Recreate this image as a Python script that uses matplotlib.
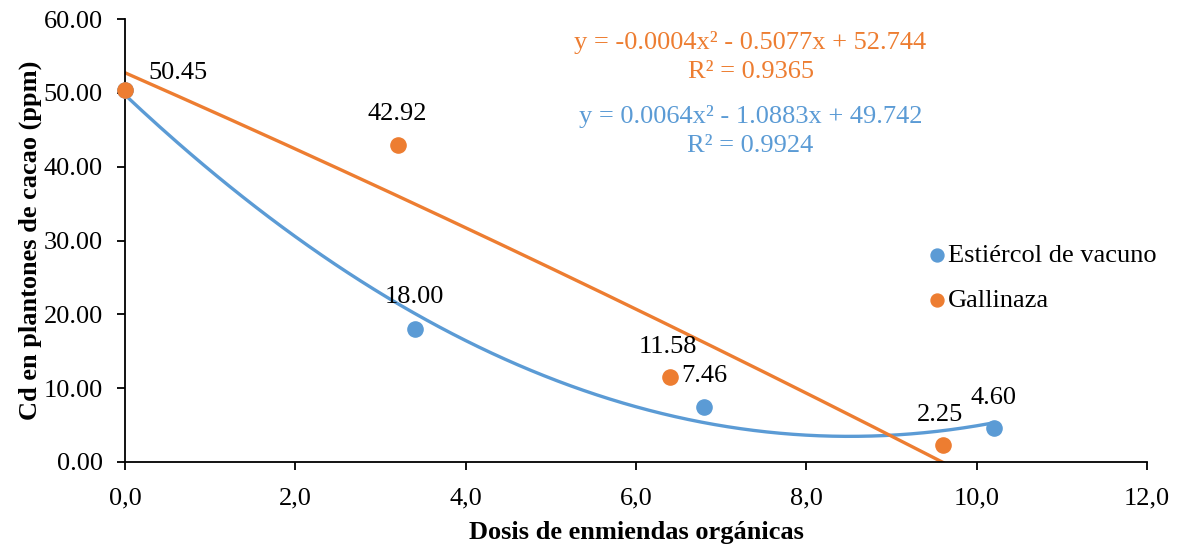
import numpy as np
import matplotlib
matplotlib.use('Agg')
import matplotlib.pyplot as plt

# data
x_vacuno = [0.0, 3.4, 6.8, 10.2]
y_vacuno = [50.45, 18.00, 7.46, 4.60]
x_gallinaza = [0.0, 3.2, 6.4, 9.6]
y_gallinaza = [50.45, 42.92, 11.58, 2.25]

eq_vacuno = 'y = 0.0064x² - 1.0883x + 49.742\nR² = 0.9924'
eq_gallinaza = 'y = -0.0004x² - 0.5077x + 52.744\nR² = 0.9365'

blue = '#5B9BD5'
orange = '#ED7D31'
fs = 19

plt.rcParams['font.family'] = ['Liberation Serif', 'DejaVu Serif']

fig = plt.figure(figsize=(11.84, 5.48), dpi=100)
ax = fig.add_axes([0.1056, 0.157, 0.8632, 0.808])

# polynomial trendlines (order 2), like Excel
xs = np.linspace(min(x_vacuno), max(x_vacuno), 200)
cv = np.polyfit(x_vacuno, y_vacuno, 2)
ax.plot(xs, np.polyval(cv, xs), color=blue, lw=2.4, zorder=2)
xs2 = np.linspace(min(x_gallinaza), max(x_gallinaza), 200)
cg = np.polyfit(x_gallinaza, y_gallinaza, 2)
ax.plot(xs2, np.polyval(cg, xs2), color=orange, lw=2.4, zorder=2)

ax.scatter(x_vacuno, y_vacuno, s=120, color=blue, zorder=3, clip_on=False,
           label='Estiércol de vacuno')
ax.scatter(x_gallinaza, y_gallinaza, s=120, color=orange, zorder=4, clip_on=False,
           label='Gallinaza')

# data labels (offsets in pixels)
off_v = [None, (0, 32), (0, 31), (0, 30)]
off_g = [(53, 17), (0, 31), (-2, 30), (-3, 30)]
for xv, yv, o in zip(x_vacuno, y_vacuno, off_v):
    if o is None:
        continue
    ax.annotate(f'{yv:.2f}', (xv, yv), xytext=o, textcoords='offset pixels',
                ha='center', va='center', fontsize=fs)
for xg, yg, o in zip(x_gallinaza, y_gallinaza, off_g):
    ax.annotate(f'{yg:.2f}', (xg, yg), xytext=o, textcoords='offset pixels',
                ha='center', va='center', fontsize=fs)

ax.text(0.612, 0.914, eq_gallinaza, transform=ax.transAxes, ha='center', va='center',
        color=orange, fontsize=fs, linespacing=1.4)
ax.text(0.612, 0.748, eq_vacuno, transform=ax.transAxes, ha='center', va='center',
        color=blue, fontsize=fs, linespacing=1.4)

ax.set_xlim(0, 12)
ax.set_ylim(0, 60)
ax.set_xticks(np.arange(0, 13, 2))
ax.set_xticklabels([f'{t:.1f}'.replace('.', ',') for t in np.arange(0, 13, 2)])
ax.set_yticks(np.arange(0, 61, 10))
ax.set_yticklabels([f'{t:.2f}' for t in np.arange(0, 61, 10)])
ax.tick_params(labelsize=fs, length=6, width=1.3, direction='out', colors='black')
ax.tick_params(axis='x', pad=12)
ax.tick_params(axis='y', pad=10)
for s in ['top', 'right']:
    ax.spines[s].set_visible(False)
for s in ['left', 'bottom']:
    ax.spines[s].set_linewidth(1.3)

ax.set_xlabel('Dosis de enmiendas orgánicas', fontsize=fs, fontweight='bold', labelpad=9)
ax.set_ylabel('Cd en plantones de cacao (ppm)', fontsize=fs, fontweight='bold', labelpad=1)

ax.legend(loc='center left', bbox_to_anchor=(0.774, 0.4165), frameon=False, fontsize=fs,
          handletextpad=0.0, handlelength=0.8, markerscale=0.85, labelspacing=0.8,
          borderaxespad=0)

fig.savefig('out.png', dpi=100)
